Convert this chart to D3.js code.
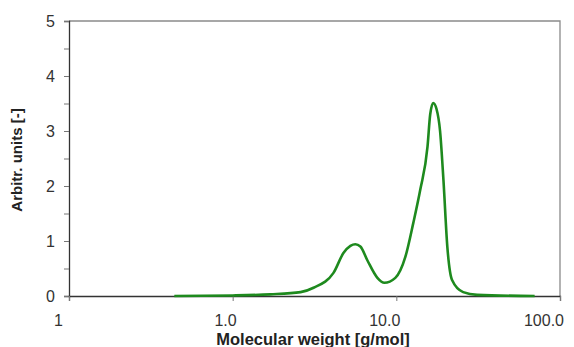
<!DOCTYPE html>
<html>
<head>
<meta charset="utf-8">
<script src="https://d3js.org/d3.v7.min.js"></script>
<style>
  body { margin: 0; background: #fff; }
  svg { display: block; }
</style>
</head>
<body>
<div id="chart"></div>
<script>
// molecular weight distribution
var molWeight = [0.44, 1.0, 1.7, 2.6, 3.12, 4.13, 4.75, 5.24, 5.62, 6.03, 6.65, 7.66, 8.45, 9.86, 11.35, 12.7, 14.0, 15.5, 16.1, 16.8, 17.6, 18.5, 19.4, 20.5, 21.9, 25.6, 31.2, 70];
var signal    = [0.0, 0.01, 0.03, 0.07, 0.15, 0.42, 0.78, 0.91, 0.94, 0.90, 0.65, 0.33, 0.24, 0.33, 0.71, 1.33, 1.93, 2.71, 3.3, 3.51, 3.4, 3.0, 2.11, 0.89, 0.29, 0.07, 0.02, 0.0];

var xTicks = [0.1, 1, 10, 100];
var xTickLabels = ["1", "1.0", "10.0", "100.0"];
var yTicks = [0, 1, 2, 3, 4, 5];

var W = 574, H = 347;
var mLeft = 69, mRight = 560, mTop = 21, mBottom = 296;
var font = "Liberation Sans, Arial, sans-serif";

var svg = d3.select("#chart").append("svg")
    .attr("width", W).attr("height", H);

var x = d3.scaleLog().domain([0.1, 100]).range([mLeft, mRight]);
var y = d3.scaleLinear().domain([0, 5]).range([mBottom, mTop]);

// frame (top and right, light gray)
svg.append("path")
    .attr("d", "M" + mLeft + "," + mTop + "H" + mRight + "V" + mBottom)
    .attr("fill", "none")
    .attr("stroke", "#8a8a8a")
    .attr("stroke-width", 1.3);

// y axis with half-unit ticks
var yAxis = svg.append("g")
    .attr("transform", "translate(" + mLeft + ",0)")
    .call(d3.axisLeft(y).tickValues(d3.range(0, 5.01, 0.5)).tickSize(5).tickFormat(""));
yAxis.select(".domain").attr("stroke", "#333").attr("stroke-width", 1.3);
yAxis.selectAll(".tick line").attr("stroke", "#777");

svg.selectAll(".ylab")
    .data(yTicks)
    .enter().append("text")
    .attr("x", 55)
    .attr("y", function (d) { return y(d); })
    .attr("dy", "0.36em")
    .attr("text-anchor", "end")
    .style("font-family", font)
    .style("font-size", "16px")
    .style("fill", "#333")
    .text(function (d) { return d; });

// x axis
var xAxis = svg.append("g")
    .attr("transform", "translate(0," + mBottom + ")")
    .call(d3.axisBottom(x).tickValues(xTicks).tickSize(5).tickFormat(""));
xAxis.select(".domain").attr("stroke", "#333").attr("stroke-width", 1.3);
xAxis.selectAll(".tick line").attr("stroke", "#777");

// labels sit a little right of their tick (first one is a clipped leftover)
svg.selectAll(".xlab")
    .data(xTicks)
    .enter().append("text")
    .attr("x", function (d, i) { return i === 0 ? x(d) - 6 : x(d) + 4; })
    .attr("y", 326)
    .attr("text-anchor", "end")
    .style("font-family", font)
    .style("font-size", "16px")
    .style("fill", "#333")
    .text(function (d, i) { return xTickLabels[i]; });

// axis titles
svg.append("text")
    .attr("x", 313)
    .attr("y", 345)
    .attr("text-anchor", "middle")
    .style("font-family", font)
    .style("font-size", "16.5px")
    .style("font-weight", "bold")
    .style("fill", "#222")
    .text("Molecular weight [g/mol]");

svg.append("text")
    .attr("transform", "translate(22,160) rotate(-90)")
    .attr("text-anchor", "middle")
    .style("font-family", font)
    .style("font-size", "15px")
    .style("font-weight", "bold")
    .style("fill", "#222")
    .text("Arbitr. units [-]");

// the curve
var line = d3.line()
    .x(function (d, i) { return x(molWeight[i]); })
    .y(function (d) { return y(d); })
    .curve(d3.curveMonotoneX);

svg.append("path")
    .datum(signal)
    .attr("d", line)
    .attr("fill", "none")
    .attr("stroke", "#1e8a1e")
    .attr("stroke-width", 2.6)
    .attr("stroke-linejoin", "round");
</script>
</body>
</html>
